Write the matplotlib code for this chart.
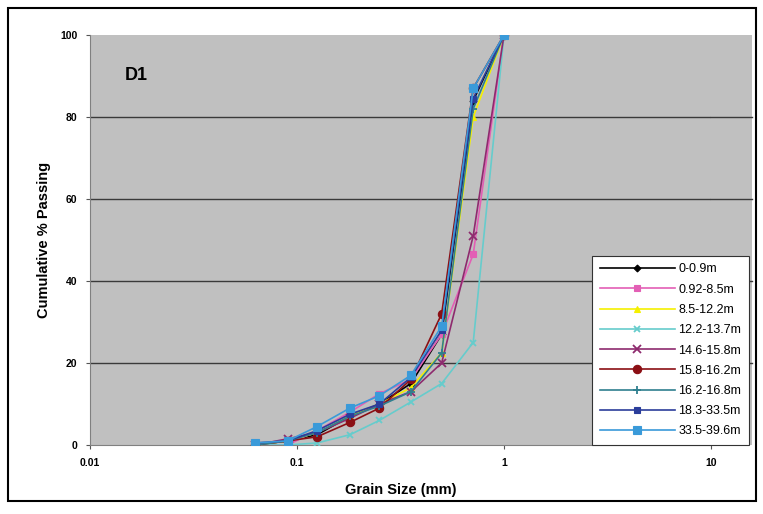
import matplotlib
matplotlib.use("Agg")
import matplotlib.pyplot as plt
from matplotlib.patches import Rectangle

plt.rcParams['font.family'] = ['Liberation Sans', 'DejaVu Sans']

sizes = [0.063, 0.09, 0.125, 0.18, 0.25, 0.355, 0.5, 0.71, 1.0]
labels = ["0-0.9m", "0.92-8.5m", "8.5-12.2m", "12.2-13.7m", "14.6-15.8m",
          "15.8-16.2m", "16.2-16.8m", "18.3-33.5m", "33.5-39.6m"]
s_0_09 = [0, 1, 2.5, 7, 10, 15, 27, 84, 100]
s_092_85 = [0, 0, 3.5, 8, 12.5, 16, 27, 46.5, 100]
s_85_122 = [0, 1, 3, 7, 10, 14, 22.5, 80, 100]
s_122_137 = [0, 0, 0.5, 2.5, 6, 10.5, 15, 25, 100]
s_146_158 = [0, 1.5, 3, 6.5, 10, 13, 20, 51, 100]
s_158_162 = [0, 1, 2, 5.5, 9, 16, 32, 87, 100]
s_162_168 = [0, 1, 3, 7, 9.5, 13, 22.5, 82, 100]
s_183_335 = [0.5, 1, 3.5, 7.5, 10, 16.5, 28, 84.5, 100]
s_335_396 = [0.5, 1, 4.5, 9, 12, 17, 29, 87, 100]
series = [s_0_09, s_092_85, s_85_122, s_122_137, s_146_158,
          s_158_162, s_162_168, s_183_335, s_335_396]
yticks = [0, 20, 40, 60, 80, 100]
xticks = [0.01, 0.1, 1, 10]
xticklabels = ["0.01", "0.1", "1", "10"]

colors = ["#000000", "#e35fb5", "#f5f000", "#66cccc", "#8e2a6e",
          "#8b0f14", "#2f7f8f", "#2b3d9b", "#3a9ad9"]
markers = ["D", "s", "^", "x", "x", "o", "+", "s", "s"]
msizes = [3.5, 5, 5, 5, 5.5, 6, 6, 4.5, 5.5]

W, H = 763, 514
fig = plt.figure(figsize=(W / 100, H / 100), dpi=100)
fig.patch.set_facecolor("white")

# outer frame
fig.add_artist(Rectangle((8 / W, 1 - 501 / H), 748 / W, 493 / H,
                         transform=fig.transFigure, fill=False,
                         edgecolor="black", linewidth=1.5))

L, R, T, B = 90, 711, 35, 445
# gray extension of plot area to the right
fig.add_artist(Rectangle((R / W, 1 - B / H), (752 - R) / W, (B - T) / H,
                         transform=fig.transFigure, facecolor="#c0c0c0",
                         edgecolor="none", zorder=0))
ax = fig.add_axes([L / W, 1 - B / H, (R - L) / W, (B - T) / H])
ax.set_facecolor("#c0c0c0")
ax.set_xscale("log")
ax.set_xlim(0.01, 10)
ax.set_ylim(0, 100)

for yv in yticks[1:-1]:
    ax.axhline(yv, color="#3a3a3a", linewidth=1.0, zorder=1)
    fig.add_artist(plt.Line2D([R / W, 752 / W], [1 - (B - yv * 4.1) / H] * 2,
                              transform=fig.transFigure, color="#3a3a3a",
                              linewidth=1.0, zorder=1))

for vals, lab, c, m, ms in zip(series, labels, colors, markers, msizes):
    ax.plot(sizes, vals, color=c, marker=m, markersize=ms, linewidth=1.2,
            markeredgewidth=1.3 if m in ("x", "+") else 0.8,
            markeredgecolor=c, label=lab, zorder=3)

ax.set_xticks(xticks)
ax.set_xticklabels(xticklabels)
ax.xaxis.set_minor_locator(matplotlib.ticker.NullLocator())
ax.set_yticks(yticks)
ax.tick_params(axis="both", labelsize=7.5, length=3, color="#555555")
ax.tick_params(axis="x", pad=6)
ax.tick_params(axis="y", pad=6)
for lbl in ax.get_xticklabels() + ax.get_yticklabels():
    lbl.set_fontweight("bold")
for sp in ["top", "right"]:
    ax.spines[sp].set_visible(False)
for sp in ["left", "bottom"]:
    ax.spines[sp].set_color("#808080")

ax.set_xlabel("Grain Size (mm)", fontsize=10.5, fontweight="bold", labelpad=11)
ax.set_ylabel("Cumulative % Passing", fontsize=10.5, fontweight="bold", labelpad=7)

ax.text(0.056, 0.9, "D1", transform=ax.transAxes, fontsize=13,
        fontweight="bold", va="center", ha="left")

leg = fig.legend(loc="lower left", bbox_to_anchor=(592 / W, 1 - 445 / H),
                 bbox_transform=fig.transFigure, fontsize=9, frameon=True,
                 fancybox=False, edgecolor="#333333", facecolor="white",
                 framealpha=1, borderpad=0.6, labelspacing=0.66,
                 handlelength=6.0, handletextpad=0.3, borderaxespad=0)
leg.get_frame().set_linewidth(0.8)
leg.set_zorder(5)

fig.savefig("out.png", dpi=100)
